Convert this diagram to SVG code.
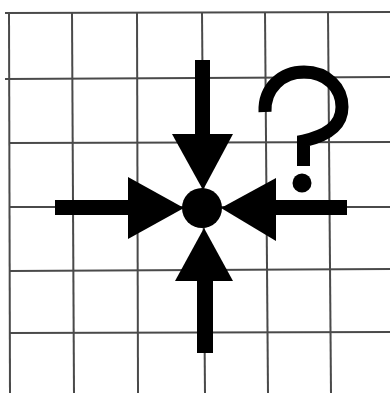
<svg xmlns="http://www.w3.org/2000/svg" width="390" height="393" viewBox="0 0 390 393">
<style>
.grid line{stroke:#4a4a4a;stroke-width:2}
.ink{fill:#000}
</style>
<rect width="390" height="393" fill="#fff"/>
<g id="grid" class="grid">
<line x1="5" y1="13" x2="390" y2="12"/>
<line x1="5" y1="79" x2="390" y2="77"/>
<line x1="10" y1="143" x2="390" y2="142"/>
<line x1="10" y1="207" x2="390" y2="207"/>
<line x1="10" y1="271" x2="390" y2="269"/>
<line x1="10" y1="333" x2="390" y2="332"/>
<line x1="9" y1="12" x2="10" y2="393"/>
<line x1="72" y1="12" x2="74" y2="393"/>
<line x1="137" y1="12" x2="138" y2="393"/>
<line x1="202" y1="12" x2="205" y2="393"/>
<line x1="265" y1="12" x2="268" y2="393"/>
<line x1="328" y1="12" x2="331" y2="393"/>
</g>
<g id="arrows" class="ink">
<g id="arrow-top">
<rect x="195" y="60" width="15" height="76"/>
<polygon points="172,134 233,134 203,190"/>
</g>
<g id="arrow-bottom">
<rect x="197" y="278" width="16" height="75"/>
<polygon points="175,281 233,281 204,228"/>
</g>
<g id="arrow-left">
<rect x="55" y="200" width="75" height="15"/>
<polygon points="128,177 128,239 184,208"/>
</g>
<g id="arrow-right">
<rect x="273" y="200" width="74" height="15"/>
<polygon points="276,178 276,241 221,208"/>
</g>
</g>
<g id="center">
<circle cx="202" cy="208" r="20" fill="#000"/>
</g>
<g id="question">
<path d="M265 112 C264 88 282 72 304 72 C327 72 342 88 342 107 C342 127 325 136 303.5 141 L303.5 166" fill="none" stroke="#000" stroke-width="13"/>
<circle cx="302" cy="183" r="9.5" fill="#000"/>
</g>
</svg>
